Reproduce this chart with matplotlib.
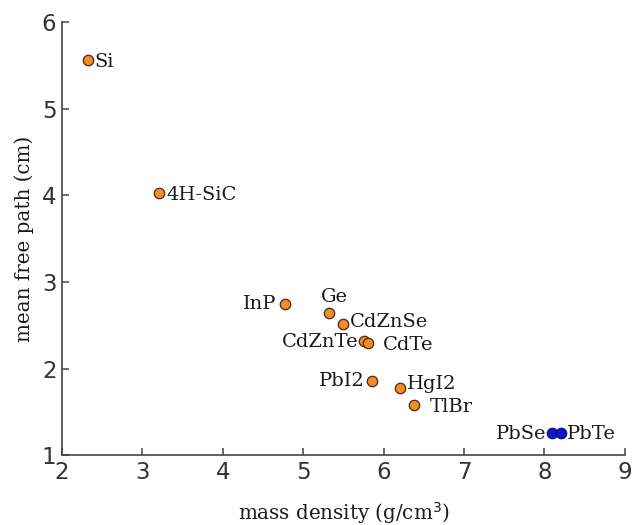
import matplotlib
matplotlib.use("Agg")
import matplotlib.pyplot as plt

# materials, mass density (g/cm^3) and mean free path (cm)
materials = ["Si", "4H-SiC", "InP", "Ge", "CdZnSe", "CdZnTe", "CdTe",
             "PbI2", "HgI2", "TlBr", "PbSe", "PbTe"]
density = [2.32, 3.21, 4.77, 5.32, 5.49, 5.76, 5.80, 5.85, 6.20, 6.38, 8.10, 8.21]
mfp = [5.56, 4.03, 2.74, 2.64, 2.51, 2.32, 2.30, 1.86, 1.78, 1.58, 1.26, 1.26]
lead_chalc = ["PbSe", "PbTe"]

# label offsets in points and alignment
offs = {
    "Si": (5, -1.5, "left", "center"),
    "4H-SiC": (5, -2, "left", "center"),
    "InP": (-6, 0.5, "right", "center"),
    "Ge": (4, 5, "center", "bottom"),
    "CdZnSe": (5, 2, "left", "center"),
    "CdZnTe": (-4, -1, "right", "center"),
    "CdTe": (11, -2, "left", "center"),
    "PbI2": (-5, -0.5, "right", "center"),
    "HgI2": (5, 2.5, "left", "center"),
    "TlBr": (11, -1.5, "left", "center"),
    "PbSe": (-4, -1, "right", "center"),
    "PbTe": (4, -1, "left", "center"),
}

fig = plt.figure(figsize=(6.33, 5.25), dpi=100)
ax = fig.add_axes([0.098, 0.133, 0.889, 0.825])

for name, x, y in zip(materials, density, mfp):
    if name in lead_chalc:
        fc, ec = "#1414c8", "#0a0a8a"
    else:
        fc, ec = "#f28c28", "#4a2a0a"
    ax.plot(x, y, "o", ms=7.5, mfc=fc, mec=ec, mew=0.9, zorder=3)
    dx, dy, ha, va = offs[name]
    ax.annotate(name, (x, y), xytext=(dx, dy), textcoords="offset points",
                ha=ha, va=va, fontsize=14, family="DejaVu Serif", color="#1a1a1a")

ax.set_xlim(2, 9)
ax.set_ylim(1, 6)
ax.set_xticks(range(2, 10))
ax.set_yticks(range(1, 7))
for s in ["top", "right"]:
    ax.spines[s].set_visible(False)
for s in ["left", "bottom"]:
    ax.spines[s].set_color("#444444")
    ax.spines[s].set_linewidth(1.2)
ax.tick_params(direction="in", length=5, width=1.1, color="#444444",
               labelsize=16.5, labelcolor="#333333", pad=4)

ax.set_xlabel("mass density (g/cm$^3$)", fontsize=14.3, family="DejaVu Serif",
              color="#1a1a1a", labelpad=12)
ax.set_ylabel("mean free path (cm)", fontsize=14.3, family="DejaVu Serif",
              color="#1a1a1a", labelpad=6)

fig.savefig("out.png", dpi=100)
